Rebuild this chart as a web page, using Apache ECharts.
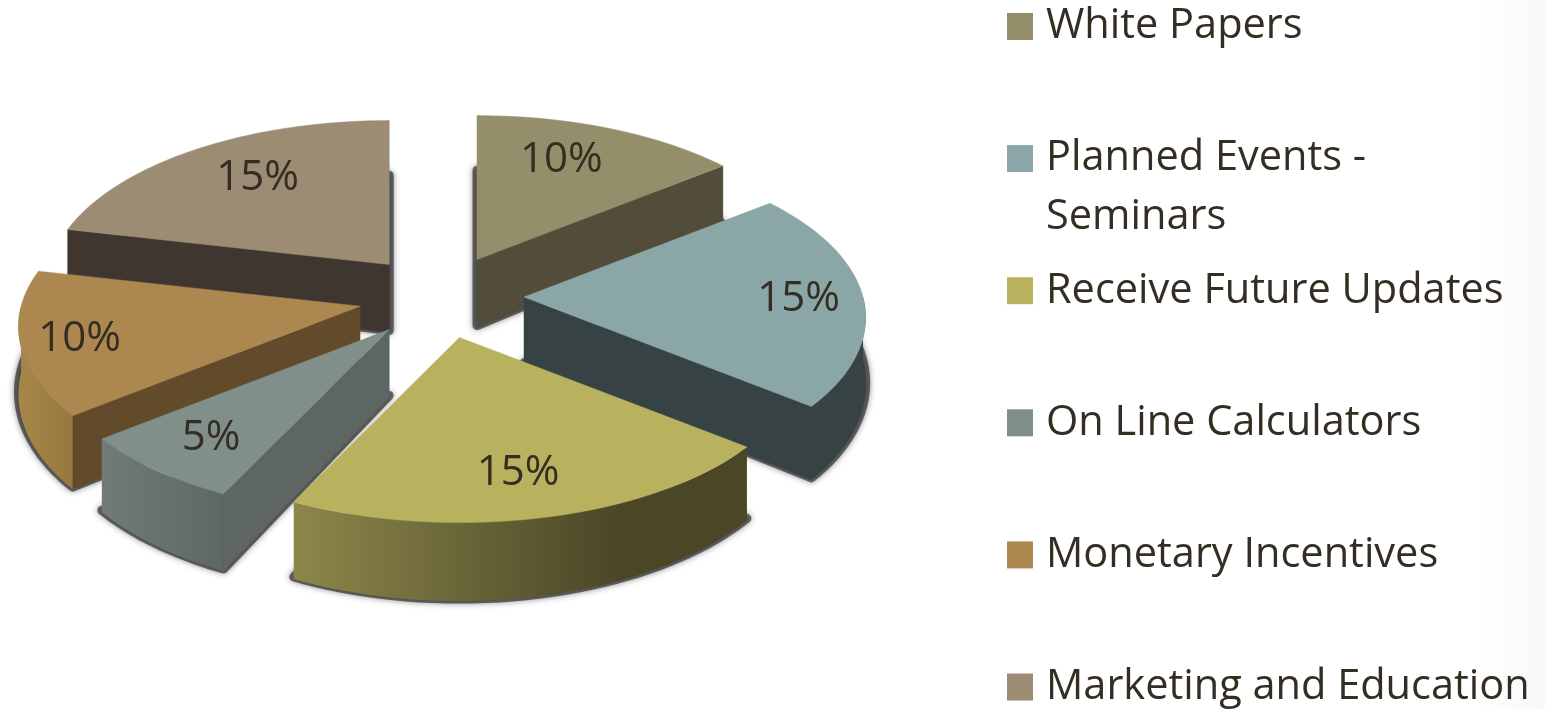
<!DOCTYPE html>
<html>
<head>
<meta charset="utf-8">
<style>
html,body{margin:0;padding:0;background:#fff;}
#chart{width:1545px;height:709px;}
</style>
<script src="https://cdn.jsdelivr.net/npm/echarts@6/dist/echarts.min.js"></script>
</head>
<body>
<div id="chart"></div>
<script>
// ---- data ----
const categories = ['White Papers','Planned Events - Seminars','Receive Future Updates','On Line Calculators','Monetary Incentives','Marketing and Education'];
const values = [10,15,15,5,10,15];

// ---- styles ----
const topColors  = ['#948F6A','#8AA6A7','#B8B25F','#818F8A','#AC8850','#9C8C74'];
const wallColors = ['#514D3A','#364243','#4B4626','#5D6662','#624B2A','#403630'];
const arcStops   = [
  ['#514D3A','#514D3A'],['#364243','#364243'],['#8C874A','#4B4626'],
  ['#707B77','#5E6763'],['#A88649','#96783F'],['#403630','#403630']
];
const arcStopEnd = [1,1,0.72,1,1,1];
const labelFrac  = [0.75,0.81,0.74,0.76,0.825,0.736];
const labelTurn  = [-4,0,1,0,0,3];
const textColor  = '#332D22';
const FONT = '"Open Sans", sans-serif';

// projection of the tilted, exploded pie
const CX = 441, CY = 297, RX = 339, RY = 162, PERSP = 0.125, EXPLODE = 83, EXPLODE_Y = 0.5, DEPTH = 66, APEX_DEPTH = 68;

const total = values.reduce((a,b)=>a+b,0);
const rad = d => d*Math.PI/180;
const angleOf = v => v/total*360;
function sliceAngles(i){
  let s = -90;
  for(let k=0;k<i;k++) s += angleOf(values[k]);
  return [s, s+angleOf(values[i])];
}
const persp = t => 1/(1-PERSP*Math.sin(t));
const depthAt = t => DEPTH*Math.pow(persp(t),1.3);

function renderSlice(i){
  return function(params, api){
    const v = api.value(0);
    const [a0,a1] = sliceAngles(i);
    const mid = rad((a0+a1)/2);
    const ax = CX + EXPLODE*Math.cos(mid), ay = CY + EXPLODE*EXPLODE_Y*Math.sin(mid);
    const rim = (t,f=1) => [ax+f*RX*Math.cos(t)*persp(t), ay+f*RY*Math.sin(t)*persp(t)];
    const down = (p,t) => [p[0],p[1]+depthAt(t)];
    const steps = Math.max(8,Math.round((a1-a0)/2));
    const arc = [], arcT = [];
    for(let k=0;k<=steps;k++){ const t = rad(a0+(a1-a0)*k/steps); arc.push(rim(t)); arcT.push(t); }
    const topPoly = [[ax,ay]].concat(arc);
    const basePoly = [[ax,ay+APEX_DEPTH-2]].concat(arc.map((p,k)=>{const d=down(p,arcT[k]);return [d[0],d[1]-2];}));
    const children = [];
    // soft shadow under the footprint
    children.push({type:'polygon',shape:{points:basePoly},silent:true,
      style:{fill:'rgba(50,50,50,0.7)',stroke:'rgba(50,50,50,0.7)',lineWidth:9,lineJoin:'round',shadowBlur:6,shadowColor:'rgba(50,50,50,0.7)'}});
    // visible radial walls
    const wall = (t)=>{
      const p = rim(t);
      children.push({type:'polygon',shape:{points:[[ax,ay],p,down(p,t),[ax,ay+APEX_DEPTH]]},silent:true,
        style:{fill:wallColors[i],stroke:wallColors[i],lineWidth:0.5}});
    };
    if(Math.cos(rad(a0))<-1e-6) wall(rad(a0));
    if(Math.cos(rad(a1))> 1e-6) wall(rad(a1));
    // outer curved wall
    const lo = Math.max(a0,0), hi = Math.min(a1,180);
    if(hi>lo){
      const n = Math.max(6,Math.round((hi-lo)/2));
      const up=[],dn=[];
      for(let k=0;k<=n;k++){ const t=rad(lo+(hi-lo)*k/n); const p=rim(t); up.push(p); dn.push(down(p,t)); }
      children.push({type:'polygon',shape:{points:up.concat(dn.reverse())},silent:true,
        style:{fill:new echarts.graphic.LinearGradient(0,0,1,0,[
          {offset:0,color:arcStops[i][0]},{offset:arcStopEnd[i],color:arcStops[i][1]},{offset:1,color:arcStops[i][1]}
        ])}});
    }
    // top face
    children.push({type:'polygon',shape:{points:topPoly},silent:true,
      style:{fill:topColors[i],stroke:topColors[i],lineWidth:0.5}});
    // percent label
    const lp = rim(mid+rad(labelTurn[i]),labelFrac[i]);
    children.push({type:'text',silent:true,
      style:{x:lp[0],y:lp[1]+2,text:v+'%',fill:textColor,font:'42px '+FONT,align:'center',verticalAlign:'middle'}});
    return {type:'group',children};
  };
}

// paint back slices first
const depthRank = values.map((_,i)=>{const [a,b]=sliceAngles(i);return Math.sin(rad((a+b)/2));});
const order = depthRank.map((d,i)=>[d,i]).sort((p,q)=>p[0]-q[0]).map(p=>p[1]);

const LEG_LH = 59, LEG_Y0 = 24.5, LEG_STEP = 132.1;
const legendText = n => n==='Planned Events - Seminars' ? '\nPlanned Events -\nSeminars' : n;
const legends = categories.map((n,i)=>{
  const lines = legendText(n).split('\n').length;
  return {
    orient:'vertical',left:1007,top:LEG_Y0+i*LEG_STEP-lines*LEG_LH/2,padding:0,
    data:[n],icon:'rect',itemWidth:26,itemHeight:27,selectedMode:false,
    formatter:legendText,
    textStyle:{fontFamily:FONT,fontSize:41.5,lineHeight:LEG_LH,color:textColor,padding:[4,0,0,8]}
  };
});

const chart = echarts.init(document.getElementById('chart'),null,{renderer:'canvas'});
chart.setOption({
  animation:false,
  backgroundColor:new echarts.graphic.LinearGradient(0,0,1,0,[
    {offset:0,color:'#ffffff'},{offset:0.955,color:'#ffffff'},{offset:1,color:'#f8f8f8'}
  ]),
  legend:legends,
  series:categories.map((n,i)=>({
    type:'custom',name:n,coordinateSystem:'none',
    z:2+order.indexOf(i),
    itemStyle:{color:topColors[i]},
    data:[{name:n,value:values[i]}],
    renderItem:renderSlice(i)
  }))
});
</script>
</body>
</html>
